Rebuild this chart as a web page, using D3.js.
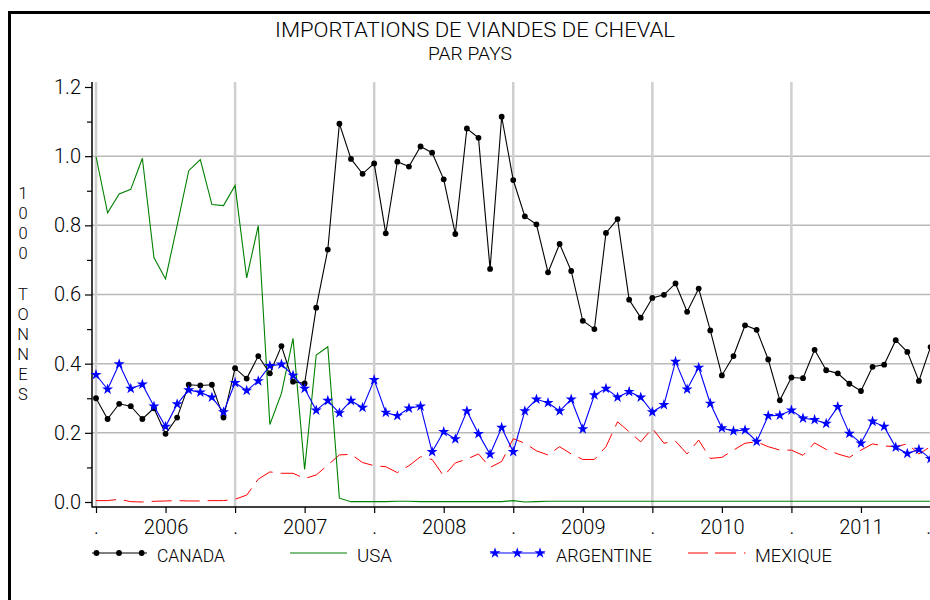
<!DOCTYPE html>
<html><head><meta charset="utf-8">
<script src="https://cdn.jsdelivr.net/npm/d3@7"></script>
<style>
body{margin:0;background:#fff}
svg{display:block}
text{font-family:Roboto,"Liberation Sans",Arial,sans-serif;font-weight:300;fill:#000}
</style>
</head><body>
<svg id="c" width="930" height="600"></svg>
<script>
// ---- data (monthly, Jan 2006 .. Jan 2012), 1000 tonnes ----
const startYear = 2006;
const monthCount = 73;
const seriesNames = ["CANADA", "USA", "ARGENTINE", "MEXIQUE"];
const canada = [0.300,0.240,0.284,0.277,0.240,0.271,0.197,0.244,0.339,0.337,0.339,0.244,
0.387,0.357,0.422,0.372,0.451,0.348,0.343,0.562,0.730,1.094,0.992,0.949,
0.979,0.777,0.984,0.970,1.028,1.010,0.933,0.775,1.080,1.053,0.674,1.114,
0.931,0.826,0.803,0.664,0.746,0.668,0.524,0.500,0.778,0.818,0.585,0.533,
0.590,0.599,0.632,0.550,0.617,0.496,0.366,0.422,0.511,0.498,0.412,0.294,
0.360,0.358,0.440,0.381,0.372,0.342,0.321,0.391,0.397,0.468,0.434,0.350,
0.448];
const usa = [0.999,0.836,0.891,0.904,0.994,0.707,0.645,0.800,0.958,0.990,0.860,0.857,
0.915,0.648,0.799,0.224,0.314,0.473,0.094,0.425,0.449,0.011,0.001,0.001,
0.001,0.001,0.002,0.002,0.001,0.001,0.001,0.001,0.001,0.001,0.001,0.001,
0.004,0.000,0.001,0.002,0.002,0.002,0.002,0.002,0.002,0.002,0.002,0.002,
0.002,0.002,0.002,0.002,0.002,0.002,0.002,0.002,0.002,0.002,0.002,0.002,
0.002,0.002,0.002,0.002,0.002,0.002,0.002,0.002,0.002,0.002,0.002,0.002,
0.002];
const argentine = [0.368,0.326,0.399,0.328,0.340,0.277,0.218,0.283,0.324,0.317,0.303,0.260,
0.345,0.322,0.350,0.394,0.398,0.366,0.328,0.265,0.293,0.257,0.293,0.273,
0.353,0.259,0.249,0.271,0.277,0.145,0.203,0.182,0.263,0.197,0.138,0.215,
0.145,0.263,0.297,0.287,0.263,0.297,0.211,0.309,0.328,0.303,0.319,0.303,
0.260,0.281,0.406,0.326,0.389,0.285,0.214,0.205,0.208,0.175,0.249,0.251,
0.265,0.242,0.238,0.227,0.275,0.198,0.170,0.233,0.218,0.158,0.140,0.152,
0.125];
const mexique = [0.004,0.004,0.008,0.001,0.000,0.002,0.003,0.004,0.003,0.003,0.004,0.004,
0.008,0.020,0.066,0.087,0.083,0.083,0.068,0.078,0.107,0.136,0.138,0.114,
0.105,0.102,0.085,0.105,0.131,0.123,0.075,0.113,0.124,0.139,0.100,0.117,
0.183,0.170,0.148,0.136,0.160,0.139,0.123,0.123,0.160,0.232,0.203,0.174,
0.213,0.170,0.176,0.139,0.179,0.126,0.129,0.150,0.170,0.174,0.160,0.150,
0.150,0.135,0.171,0.152,0.139,0.129,0.150,0.168,0.162,0.160,0.168,0.139,
0.160];
const yTicks = [0, 0.2, 0.4, 0.6, 0.8, 1.0, 1.2];
const yMinorTicks = [0.1, 0.3, 0.5, 0.7, 0.9, 1.1];
const gridValues = [0.2, 0.4, 0.6, 0.8, 1.0];
const titleText = "IMPORTATIONS DE VIANDES DE CHEVAL";
const subtitleText = "PAR PAYS";
const yLabelText = "1000 TONNES";

// ---- layout ----
const svg = d3.select("#c");
const X0 = 96, X1 = 930.5, AXY = 507, AXX = 92, TOP = 82;
const x = d3.scaleLinear().domain([0, monthCount - 1]).range([X0, X1]);
const y = d3.scaleLinear().domain([0, 1.2]).range([502, 87]);

// frame
svg.append("line").attr("x1", 9.5).attr("x2", 9.5).attr("y1", 11).attr("y2", 600)
  .attr("stroke", "#000").attr("stroke-width", 3);
svg.append("line").attr("x1", 8).attr("x2", 930).attr("y1", 12.5).attr("y2", 12.5)
  .attr("stroke", "#000").attr("stroke-width", 3);

// titles
svg.append("text").attr("x", 275).attr("y", 37.3).attr("font-size", 21)
  .attr("textLength", 400).attr("lengthAdjust", "spacingAndGlyphs").text(titleText);
svg.append("text").attr("x", 428).attr("y", 60).attr("font-size", 17.5)
  .attr("textLength", 84).attr("lengthAdjust", "spacingAndGlyphs").text(subtitleText);

// y label (stacked letters)
svg.append("g").selectAll("text").data(yLabelText.split(""))
  .join("text").attr("x", 23).attr("y", (d, i) => 199 + i * 20.1)
  .attr("text-anchor", "middle").attr("font-size", 16.5).text(d => d);

// grid
const grid = svg.append("g");
grid.selectAll(".hg").data(gridValues).join("line")
  .attr("x1", AXX).attr("x2", 930).attr("y1", d => y(d)).attr("y2", d => y(d))
  .attr("stroke", "#b9b9b9").attr("stroke-width", 1.5);
grid.selectAll(".vg").data(d3.range(0, monthCount - 1, 12)).join("line")
  .attr("x1", d => x(d)).attr("x2", d => x(d)).attr("y1", TOP).attr("y2", AXY)
  .attr("stroke", "#cfcfcf").attr("stroke-width", 2.5);

// axes
const yAxis = svg.append("g").attr("transform", `translate(${AXX},0)`)
  .call(d3.axisLeft(y).tickValues(yTicks).tickFormat(d3.format(".1f"))
    .tickSize(7).tickSizeOuter(0).tickPadding(4));
yAxis.select(".domain").remove();
yAxis.selectAll("text").attr("font-size", 20).attr("font-family", null);
const yMinor = svg.append("g").attr("transform", `translate(${AXX},0)`)
  .call(d3.axisLeft(y).tickValues(yMinorTicks).tickFormat("").tickSize(5).tickSizeOuter(0));
yMinor.select(".domain").remove();

const xAxis = svg.append("g").attr("transform", `translate(0,${AXY})`)
  .call(d3.axisBottom(x).tickValues(d3.range(0, monthCount, 6))
    .tickFormat(i => i % 12 === 0 ? "." : String(startYear + Math.floor(i / 12)))
    .tickSize(6).tickSizeOuter(0).tickPadding(7));
xAxis.select(".domain").remove();
xAxis.selectAll("text").attr("font-size", 20).attr("font-family", null)
  .attr("text-anchor", d => d === monthCount - 1 ? "end" : "middle");
svg.selectAll(".tick line").attr("stroke", "#000").attr("stroke-width", 1.2);

svg.append("line").attr("x1", AXX).attr("x2", AXX).attr("y1", TOP).attr("y2", AXY + 0.5)
  .attr("stroke", "#000").attr("stroke-width", 1.5);
svg.append("line").attr("x1", AXX).attr("x2", 930).attr("y1", AXY).attr("y2", AXY)
  .attr("stroke", "#000").attr("stroke-width", 1.5);

// series
const line = d3.line().x((d, i) => x(i)).y(d => y(d));
const plot = svg.append("g");
plot.append("path").datum(mexique).attr("d", line).attr("fill", "none")
  .attr("stroke", "#ff0000").attr("stroke-width", 1).attr("stroke-dasharray", "20,8");
plot.append("path").datum(usa).attr("d", line).attr("fill", "none")
  .attr("stroke", "#008000").attr("stroke-width", 1.1);
plot.append("path").datum(canada).attr("d", line).attr("fill", "none")
  .attr("stroke", "#000").attr("stroke-width", 1.1);
plot.selectAll(".cd").data(canada).join("circle")
  .attr("cx", (d, i) => x(i)).attr("cy", d => y(d)).attr("r", 2.9).attr("fill", "#000");
plot.append("path").datum(argentine).attr("d", line).attr("fill", "none")
  .attr("stroke", "#0000ff").attr("stroke-width", 1.1);
const star = d3.symbol().type(d3.symbolStar).size(38);
plot.selectAll(".st").data(argentine).join("path")
  .attr("transform", (d, i) => `translate(${x(i)},${y(d)})`)
  .attr("d", star).attr("fill", "#0000ff");

// legend
const LY = 553, LT = 561.7;
const lg = svg.append("g");
lg.append("line").attr("x1", 92).attr("x2", 147).attr("y1", LY).attr("y2", LY).attr("stroke", "#000");
lg.selectAll(".lc").data([96.5, 119, 141.7]).join("circle")
  .attr("cx", d => d).attr("cy", LY).attr("r", 2.9).attr("fill", "#000");
lg.append("text").attr("x", 157).attr("y", LT).attr("font-size", 19)
  .attr("textLength", 68).attr("lengthAdjust", "spacingAndGlyphs").text(seriesNames[0]);

lg.append("line").attr("x1", 290).attr("x2", 347).attr("y1", LY).attr("y2", LY)
  .attr("stroke", "#008000").attr("stroke-width", 1.1);
lg.append("text").attr("x", 357).attr("y", LT).attr("font-size", 19)
  .attr("textLength", 35).attr("lengthAdjust", "spacingAndGlyphs").text(seriesNames[1]);

lg.append("line").attr("x1", 490).attr("x2", 545).attr("y1", LY).attr("y2", LY)
  .attr("stroke", "#0000ff").attr("stroke-width", 1.1);
lg.selectAll(".ls").data([495, 517.3, 540]).join("path")
  .attr("transform", d => `translate(${d},${LY})`).attr("d", star).attr("fill", "#0000ff");
lg.append("text").attr("x", 556).attr("y", LT).attr("font-size", 19)
  .attr("textLength", 96).attr("lengthAdjust", "spacingAndGlyphs").text(seriesNames[2]);

lg.append("line").attr("x1", 688).attr("x2", 747).attr("y1", LY).attr("y2", LY)
  .attr("stroke", "#ff0000").attr("stroke-width", 1).attr("stroke-dasharray", "20,7,21,8,1.5,20");
lg.append("text").attr("x", 755).attr("y", LT).attr("font-size", 19)
  .attr("textLength", 77).attr("lengthAdjust", "spacingAndGlyphs").text(seriesNames[3]);
</script>
</body></html>
